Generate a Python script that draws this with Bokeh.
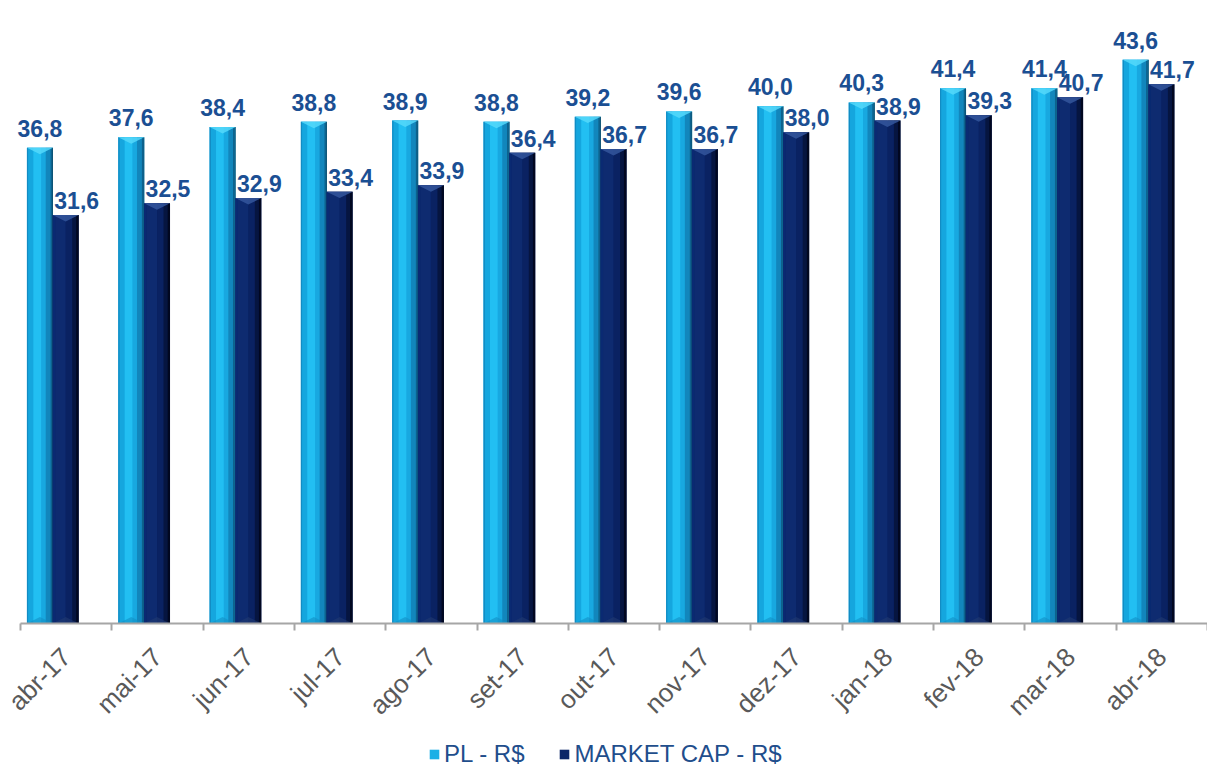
import numpy as np
from bokeh.plotting import figure
from bokeh.models import Range1d, FixedTicker, Legend, LegendItem, ColumnDataSource
from bokeh.core.properties import value
from bokeh.embed import file_html
from bokeh.resources import INLINE

categories = ["abr-17", "mai-17", "jun-17", "jul-17", "ago-17", "set-17", "out-17",
              "nov-17", "dez-17", "jan-18", "fev-18", "mar-18", "abr-18"]
pl_values = [36.8, 37.6, 38.4, 38.8, 38.9, 38.8, 39.2, 39.6, 40.0, 40.3, 41.4, 41.4, 43.6]
mc_values = [31.6, 32.5, 32.9, 33.4, 33.9, 36.4, 36.7, 36.7, 38.0, 38.9, 39.3, 40.7, 41.7]
series_names = ["PL - R$", "MARKET CAP - R$"]

FONT = "Liberation Sans"
LABEL_BLUE = "#1B4F93"
n = len(categories)
xs = np.arange(n) + 0.5
BAR_W = 0.285
PX_PER_UNIT = 12.93
FRAME_W = 1207
LEFT_PAD_PX = 20
PX_PER_CAT = (FRAME_W - LEFT_PAD_PX) / n
FRAME_H = 768
ZERO_PX = 623
Y_END = ZERO_PX / PX_PER_UNIT
Y_START = -(FRAME_H - ZERO_PX) / PX_PER_UNIT

p = figure(frame_width=FRAME_W, frame_height=FRAME_H, output_backend="svg", toolbar_location=None,
           x_range=Range1d(-LEFT_PAD_PX / PX_PER_CAT, n), y_range=Range1d(Y_START, Y_END),
           min_border_left=0, min_border_right=0, min_border_top=0, min_border_bottom=0)
p.outline_line_color = None
p.xgrid.visible = False
p.ygrid.visible = False
p.yaxis.visible = False
p.background_fill_color = "white"

def draw_series(vals, offset, base_color, strips, top_col, bot_col):
    cx = xs + offset
    src = ColumnDataSource(dict(x=cx, top=vals))
    main = p.vbar(x="x", top="top", bottom=0, width=BAR_W, source=src,
                  fill_color=base_color, line_color=None)
    for (a, b, col) in strips:
        sx = cx - BAR_W / 2 + (a + b) / 2 * BAR_W
        s = ColumnDataSource(dict(x=sx, top=vals))
        p.vbar(x="x", top="top", bottom=0, width=(b - a) * BAR_W, source=s,
               fill_color=col, line_color=None)
    d = 0.5
    tx = [[c - BAR_W / 2, c + BAR_W / 2, c] for c in cx]
    ty = [[v, v, v - d] for v in vals]
    p.patches(tx, ty, fill_color=top_col, line_color=None, fill_alpha=0.85)
    by = [[0, 0, d] for v in vals]
    p.patches(tx, by, fill_color=bot_col, line_color=None, fill_alpha=0.6)
    return main

pl_strips = [(0.0, 0.06, "#128CC4"), (0.06, 0.25, "#15A6DE"), (0.25, 0.55, "#22BFF2"),
             (0.55, 0.72, "#18A8E0"), (0.72, 0.9, "#1286BC"), (0.9, 0.97, "#0D628E"),
             (0.97, 1.0, "#083E5C")]
mc_strips = [(0.0, 0.1, "#0A2A72"), (0.1, 0.5, "#0E2B70"), (0.5, 0.75, "#0A2262"),
             (0.75, 0.9, "#061540"), (0.9, 1.0, "#010720")]

r_pl = draw_series(pl_values, -0.287, "#1BB0E6", pl_strips, "#55D8FA", "#1390C4")
r_mc = draw_series(mc_values, -0.005, "#0C2668", mc_strips, "#34569C", "#223A72")

def fmt(v):
    return f"{v:.1f}".replace(".", ",")

p.text(x=xs - 0.287, y=pl_values, text=[fmt(v) for v in pl_values],
       text_font=value(FONT), text_font_style="bold", text_font_size="23px",
       text_color=LABEL_BLUE, text_align="center", text_baseline="bottom", y_offset=-11)
p.text(x=xs - 0.005, y=mc_values, text=[fmt(v) for v in mc_values],
       text_font=value(FONT), text_font_style="bold", text_font_size="23px",
       text_color=LABEL_BLUE, text_align="center", text_baseline="bottom",
       x_offset=11, y_offset=-6)

ax = p.xaxis[0]
ax.fixed_location = 0
ax.bounds = (0, n)
ax.ticker = FixedTicker(ticks=list(xs), minor_ticks=list(range(n + 1)))
ax.major_label_overrides = {float(x): c for x, c in zip(xs, categories)}
ax.major_tick_out = 0
ax.major_tick_in = 0
ax.minor_tick_out = 7
ax.minor_tick_in = 0
ax.minor_tick_line_color = "#A6A6A6"
ax.minor_tick_line_width = 2
ax.axis_line_color = "#A6A6A6"
ax.axis_line_width = 2
ax.major_label_orientation = np.pi / 4
ax.major_label_text_font = FONT
ax.major_label_text_font_size = "26px"
ax.major_label_text_color = "#595959"
ax.major_label_standoff = 22

legend = Legend(items=[LegendItem(label=series_names[0], renderers=[r_pl]),
                       LegendItem(label=series_names[1], renderers=[r_mc])],
                orientation="horizontal", location=(428, 0),
                label_text_font=FONT, label_text_font_size="24px",
                label_text_color="#1F4E8C", glyph_width=12, glyph_height=12,
                spacing=34, border_line_color=None, background_fill_alpha=0,
                label_standoff=4, margin=0, padding=4)
p.add_layout(legend, "center")

open("out.html", "w").write(file_html(p, INLINE))
